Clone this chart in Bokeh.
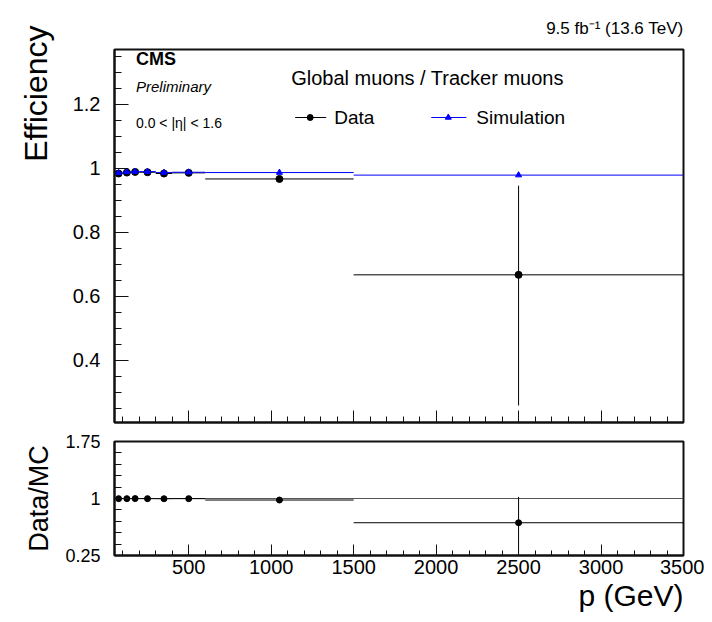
import numpy as np
from bokeh.plotting import figure
from bokeh.models import Range1d, FixedTicker, CustomJSTickFormatter, Label, Title
from bokeh.layouts import column
from bokeh.embed import file_html
from bokeh.resources import INLINE

# ---------------- data ----------------
bin_lo = [50, 100, 150, 200, 300, 400, 600, 1500]
bin_hi = [100, 150, 200, 300, 400, 600, 1500, 3500]
p_center = [75, 125, 175, 250, 350, 500, 1050, 2500]

eff_data = [0.984, 0.987, 0.989, 0.988, 0.984, 0.986, 0.967, 0.667]
eff_data_err_up = [0.002, 0.002, 0.002, 0.002, 0.003, 0.003, 0.006, 0.279]
eff_data_err_dn = [0.002, 0.002, 0.002, 0.002, 0.003, 0.003, 0.006, 0.409]

eff_sim = [0.986, 0.989, 0.990, 0.990, 0.987, 0.988, 0.987, 0.979]

ratio = [0.998, 0.998, 0.999, 0.998, 0.997, 0.998, 0.980, 0.681]
ratio_err_up = [0.003, 0.003, 0.003, 0.003, 0.004, 0.004, 0.008, 0.34]
ratio_err_dn = [0.003, 0.003, 0.003, 0.003, 0.004, 0.004, 0.008, 0.45]

x_ticks = [500, 1000, 1500, 2000, 2500, 3000, 3500]
eff_ticks = [0.4, 0.6, 0.8, 1.0, 1.2]
ratio_ticks = [0.25, 1.0, 1.75]

FONT = "Liberation Sans"
X0, X1 = 50, 3500
Y0, Y1 = 0.205, 1.372
R0, R1 = 0.25, 1.75

fmt = CustomJSTickFormatter(code="return String(Math.round(tick*100)/100)")
empty_fmt = CustomJSTickFormatter(code="return ''")

x_minor = [float(v) for v in np.arange(100, 3500, 100)]
y_minor = [round(float(v), 2) for v in np.arange(0.25, 1.37, 0.05)]
r_minor = [0.4, 0.55, 0.7, 0.85, 1.15, 1.3, 1.45, 1.6]

LEFT, RIGHT, TOP = 114, 21, 49
W = 704


def style_frame(p):
    p.outline_line_color = "#111111"
    p.outline_line_width = 2
    p.xgrid.visible = False
    p.ygrid.visible = False
    p.background_fill_color = "white"
    p.border_fill_color = "white"
    for ax in (p.xaxis[0], p.yaxis[0]):
        ax.axis_line_color = "#111111"
        ax.axis_line_width = 2
        ax.major_tick_line_color = "#111111"
        ax.minor_tick_line_color = "#111111"
        ax.major_tick_out = 0
        ax.minor_tick_out = 0
        ax.major_label_text_font = FONT
        ax.major_label_text_color = "black"


# ---------------- main panel ----------------
p = figure(width=W, height=432, output_backend="svg", toolbar_location=None,
           x_range=Range1d(X0, X1), y_range=Range1d(Y0, Y1),
           min_border_left=LEFT, min_border_right=RIGHT, min_border_top=TOP,
           min_border_bottom=10)
style_frame(p)
p.xaxis.ticker = FixedTicker(ticks=x_ticks, minor_ticks=x_minor)
p.xaxis.formatter = empty_fmt
p.xaxis.major_label_text_font_size = "0px"
p.xaxis.major_label_standoff = 0
p.xaxis.major_tick_in = 12
p.xaxis.minor_tick_in = 6
p.yaxis.ticker = FixedTicker(ticks=eff_ticks, minor_ticks=y_minor)
p.yaxis.formatter = fmt
p.yaxis.major_label_text_font_size = "20px"
p.yaxis.major_label_standoff = 14
p.yaxis.major_tick_in = 14
p.yaxis.minor_tick_in = 7

eff_lo = [v - e for v, e in zip(eff_data, eff_data_err_dn)]
eff_hi = [v + e for v, e in zip(eff_data, eff_data_err_up)]

# data
p.segment(x0=bin_lo, y0=eff_data, x1=bin_hi, y1=eff_data, line_color="black", line_width=1)
p.segment(x0=p_center, y0=eff_lo, x1=p_center, y1=eff_hi, line_color="black", line_width=1)
p.scatter(x=p_center, y=eff_data, marker="circle", size=7, color="black")
# simulation
p.segment(x0=bin_lo, y0=eff_sim, x1=bin_hi, y1=eff_sim, line_color="#0000ff", line_width=1)
p.scatter(x=p_center, y=eff_sim, marker="triangle", size=6, color="#0000ff")


def xd(px):
    return X0 + (px - 114.5) * (X1 - X0) / 568.5


def yd(py):
    return Y1 - (py - 49) * (Y1 - Y0) / 373.0


def lab(fig, x, y, text, size, style="normal", align="left", baseline="middle",
        angle=0.0, color="black"):
    fig.add_layout(Label(x=x, y=y, text=text, text_font=FONT, text_font_size=size,
                         text_font_style=style, text_align=align,
                         text_baseline=baseline, angle=angle, text_color=color))


lab(p, xd(136), yd(58), "CMS", "18px", style="bold")
lab(p, xd(136), yd(86), "Preliminary", "15px", style="italic")
lab(p, xd(136), yd(122), "0.0 < |\u03b7| < 1.6", "14px")
lab(p, xd(291), yd(77), "Global muons / Tracker muons", "20px")

# legend
p.line(x=[xd(295), xd(326)], y=[yd(117), yd(117)], line_color="black", line_width=1)
p.scatter(x=[xd(310)], y=[yd(117)], marker="circle", size=6, color="black")
lab(p, xd(334), yd(117), "Data", "19px")
p.line(x=[xd(431), xd(466)], y=[yd(117), yd(117)], line_color="#0000ff", line_width=1)
p.scatter(x=[xd(448)], y=[yd(117)], marker="triangle", size=6, color="#0000ff")
lab(p, xd(476), yd(117), "Simulation", "19px")

# title (top right)
p.add_layout(Title(text="9.5 fb\u207b\u00b9 (13.6 TeV)", align="right", text_font=FONT,
                   text_font_size="17px", text_font_style="normal", text_color="black",
                   standoff=24), "above")

# y axis title
p.add_layout(Title(text="Efficiency", align="right", vertical_align="top", text_font=FONT,
                   text_font_size="32px", text_font_style="normal", text_color="black",
                   standoff=28, offset=-24), "left")

# ---------------- ratio panel ----------------
r = figure(width=W, height=188, output_backend="svg", toolbar_location=None,
           x_range=Range1d(X0, X1), y_range=Range1d(R0, R1),
           min_border_left=LEFT, min_border_right=RIGHT, min_border_top=9,
           min_border_bottom=65)
style_frame(r)
r.xaxis.ticker = FixedTicker(ticks=x_ticks, minor_ticks=x_minor)
r.xaxis.formatter = fmt
r.xaxis.major_label_text_font_size = "20px"
r.xaxis.major_label_standoff = 4
r.xaxis.major_tick_in = 11
r.xaxis.minor_tick_in = 5
r.yaxis.ticker = FixedTicker(ticks=ratio_ticks, minor_ticks=r_minor)
r.yaxis.formatter = fmt
r.yaxis.major_label_text_font_size = "18px"
r.yaxis.major_label_standoff = 14
r.yaxis.major_tick_in = 14
r.yaxis.minor_tick_in = 7
r.yaxis.axis_label = "Data/MC"
r.yaxis.axis_label_text_font = FONT
r.yaxis.axis_label_text_font_size = "27px"
r.yaxis.axis_label_text_font_style = "normal"
r.yaxis.axis_label_text_color = "black"
r.yaxis.axis_label_standoff = 8

r.line(x=[X0, X1], y=[1.0, 1.0], line_color="#555555", line_width=1)
r_lo = [v - e for v, e in zip(ratio, ratio_err_dn)]
r_hi = [v + e for v, e in zip(ratio, ratio_err_up)]
r.segment(x0=bin_lo, y0=ratio, x1=bin_hi, y1=ratio, line_color="black", line_width=1)
r.segment(x0=p_center, y0=r_lo, x1=p_center, y1=r_hi, line_color="black", line_width=1)
r.scatter(x=p_center, y=ratio, marker="circle", size=6, color="black")

r.add_layout(Title(text="p (GeV)", align="right", text_font=FONT,
                   text_font_size="30px", text_font_style="normal", text_color="black",
                   standoff=0), "below")

layout = column(p, r, spacing=0)
open("out.html", "w").write(file_html(layout, INLINE))
